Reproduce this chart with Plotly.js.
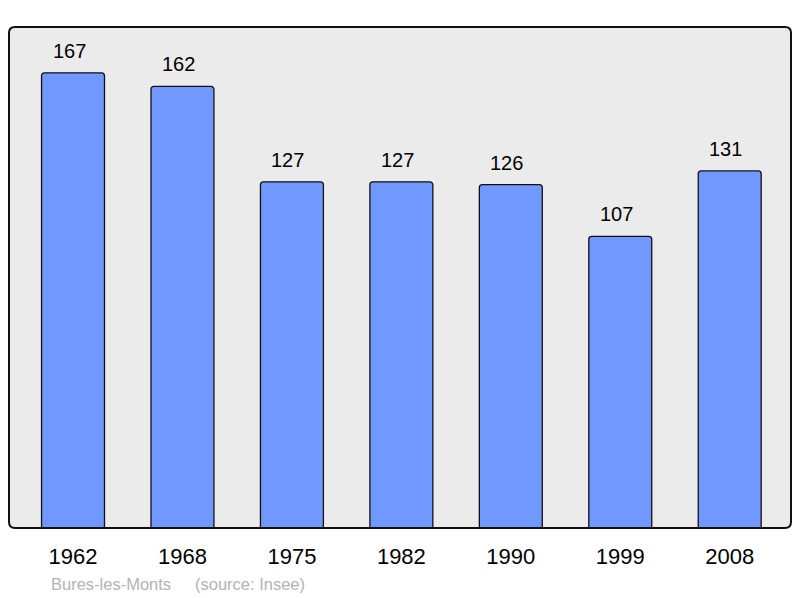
<!DOCTYPE html>
<html><head><meta charset="utf-8">
<script src="https://cdn.plot.ly/plotly-3.0.1.min.js"></script>
<style>body{margin:0;background:#fff}#c{width:800px;height:598px}</style>
</head><body><div id="c"></div>
<script>
const years = ['1962','1968','1975','1982','1990','1999','2008'];
const population = [167,162,127,127,126,107,131];
const footerPlace = 'Bures-les-Monts';
const footerSource = '(source: Insee)';

const W=800,H=598,L=9,R=9,T=27,B=70;
const pw=W-L-R, ph=H-T-B;
const rx=6/pw, ry=6/ph;
const framePath = `M ${rx} 0 L ${1-rx} 0 Q 1 0 1 ${ry} L 1 ${1-ry} Q 1 1 ${1-rx} 1 L ${rx} 1 Q 0 1 0 ${1-ry} L 0 ${ry} Q 0 0 ${rx} 0 Z`;
const FONT='Liberation Sans, Arial, sans-serif';

const trace = {
  type:'bar', x: years.map((_,i)=>i), y: population,
  width:0.575,
  marker:{color:'#7198ff', line:{color:'#111', width:1.3}, cornerradius:3},
  hoverinfo:'skip'
};
const annotations = population.map((v,i)=>({
  x:i, y:v, xref:'x', yref:'y', text:String(v), showarrow:false,
  yanchor:'bottom', yshift:9, xshift:-4, font:{family:FONT, size:20, color:'#000'}
}));
const fy = -(584-(T+ph))/ph;
annotations.push({x:(49-L)/pw, y:fy, xref:'paper', yref:'paper', text:footerPlace, showarrow:false,
  xanchor:'left', yanchor:'middle', font:{family:FONT, size:16.5, color:'#b3b3b3'}});
annotations.push({x:(193-L)/pw, y:fy, xref:'paper', yref:'paper', text:footerSource, showarrow:false,
  xanchor:'left', yanchor:'middle', font:{family:FONT, size:16.5, color:'#b3b3b3'}});

const layout = {
  width:W, height:H, margin:{l:L,r:R,t:T,b:B},
  paper_bgcolor:'#fff', plot_bgcolor:'#ebebeb',
  showlegend:false,
  xaxis:{range:[-0.585,6.56], tickvals:years.map((_,i)=>i), ticktext:years,
    showgrid:false, zeroline:false, showline:false, ticks:'outside', ticklen:9, tickcolor:'rgba(0,0,0,0)',
    tickfont:{family:FONT, size:22, color:'#000'}, fixedrange:true},
  yaxis:{range:[0,183.8], visible:false, showgrid:false, zeroline:false, fixedrange:true},
  shapes:[{type:'path', xref:'paper', yref:'paper', path:framePath, line:{color:'#111', width:2}, layer:'above'}],
  annotations
};
Plotly.newPlot('c',[trace],layout,{displayModeBar:false,staticPlot:true});
</script></body></html>
